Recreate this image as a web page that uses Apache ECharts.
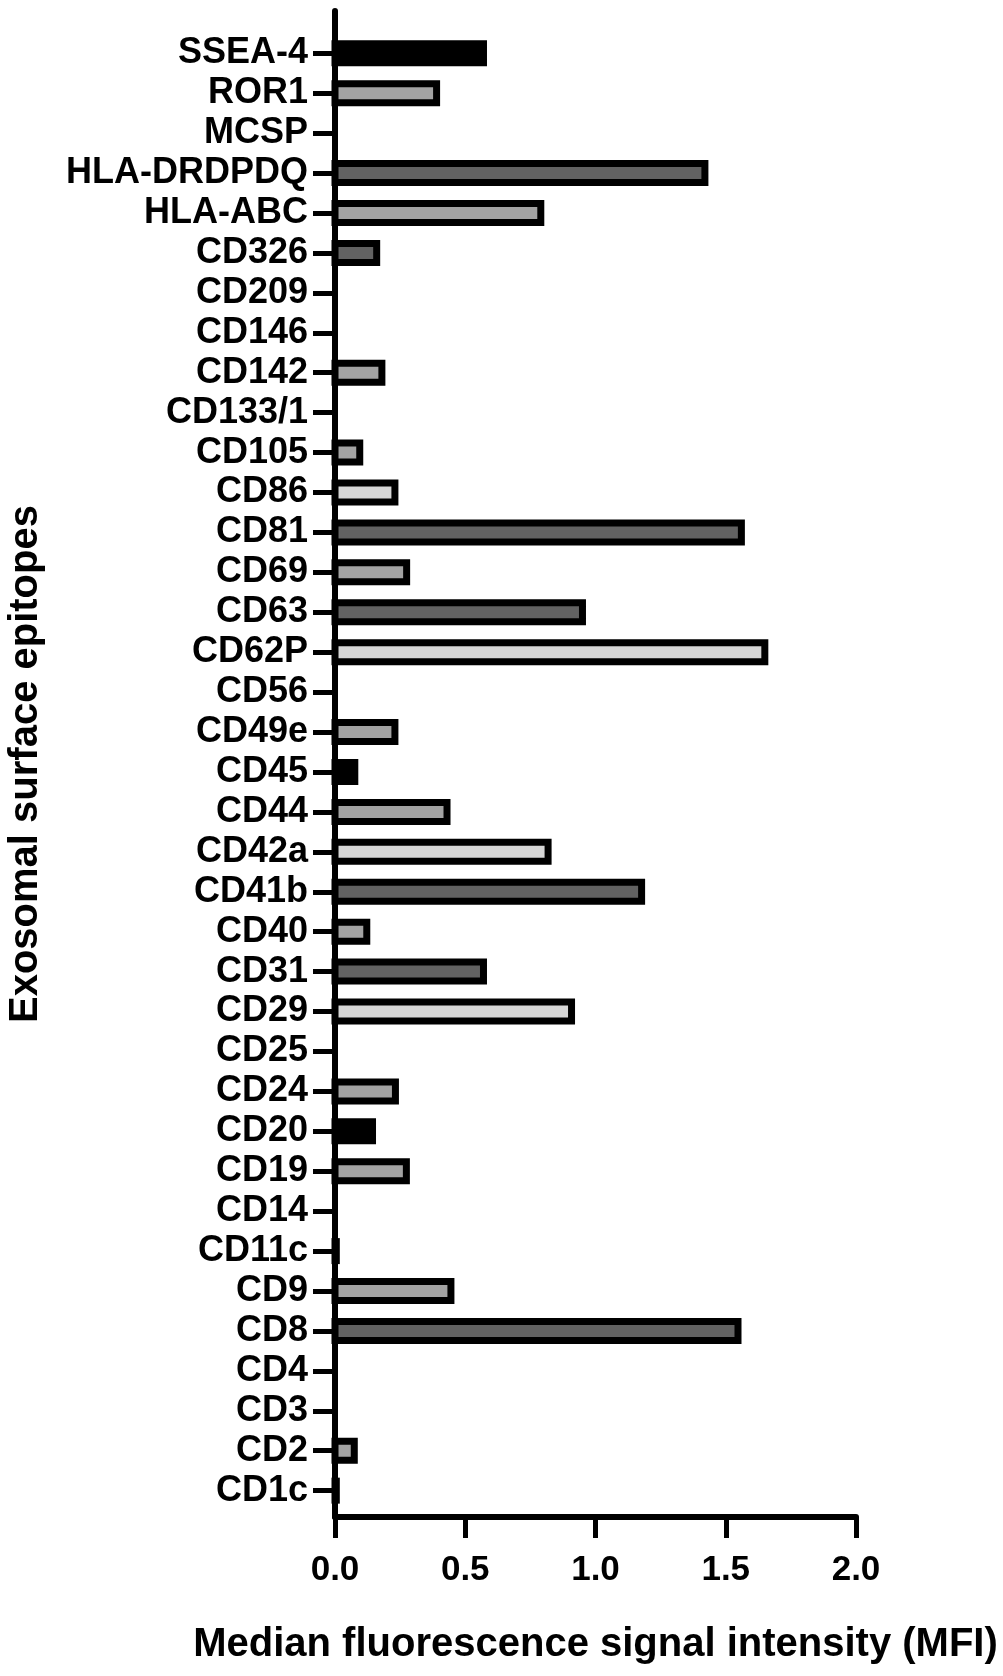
<!DOCTYPE html>
<html>
<head>
<meta charset="utf-8">
<script src="https://cdn.jsdelivr.net/npm/echarts@6/dist/echarts.min.js"></script>
<style>
html,body{margin:0;padding:0;background:#fff;}
#chart{width:1003px;height:1676px;}
</style>
</head>
<body>
<div id="chart"></div>
<script>
// Categories (top to bottom)
const categories = ['SSEA-4','ROR1','MCSP','HLA-DRDPDQ','HLA-ABC','CD326','CD209','CD146','CD142','CD133/1','CD105','CD86','CD81','CD69','CD63','CD62P','CD56','CD49e','CD45','CD44','CD42a','CD41b','CD40','CD31','CD29','CD25','CD24','CD20','CD19','CD14','CD11c','CD9','CD8','CD4','CD3','CD2','CD1c'];
// Median fluorescence signal intensity (MFI)
const mfi = [0.57,0.39,0,1.42,0.79,0.16,0,0,0.18,0,0.095,0.23,1.56,0.275,0.95,1.65,0,0.23,0.076,0.43,0.818,1.177,0.122,0.57,0.908,0,0.232,0.144,0.274,0,0.005,0.445,1.547,0,0,0.074,0.005];
// Shading group of each bar
const group = ['A','C','-','B','C','B','-','-','C','-','C','D','B','C','B','D','-','C','A','C','D','B','C','B','D','-','C','A','C','-','A','C','B','-','-','C','A'];
// X tick labels
const xTicks = [0, 0.5, 1.0, 1.5, 2.0];

const shade = {A:'#000000', B:'#626262', C:'#a3a3a3', D:'#d6d6d6', '-':'#ffffff'};
const font = 'Liberation Sans, Arial, sans-serif';
const idxs = categories.map((c, i) => i);

const chart = echarts.init(document.getElementById('chart'), null, {renderer:'canvas'});
chart.setOption({
  animation: false,
  backgroundColor: '#fff',
  grid: {left: 335, right: 147, top: 11, bottom: 159, containLabel: false, outerBoundsMode: 'none'},
  xAxis: {
    type: 'value', min: xTicks[0], max: xTicks[xTicks.length-1], interval: 0.5,
    splitLine: {show: false},
    axisLine: {show: true, onZero: false, lineStyle: {color: '#000', width: 6}},
    axisTick: {show: true, length: 21, lineStyle: {color: '#000', width: 5}},
    axisLabel: {formatter: v => v.toFixed(1), fontSize: 35, fontWeight: 'bold', color: '#000', fontFamily: font, margin: 36},
    name: 'Median fluorescence signal intensity (MFI)', nameLocation: 'middle', nameGap: 108,
    nameTextStyle: {fontSize: 40, fontWeight: 'bold', color: '#000', fontFamily: font}
  },
  yAxis: {
    type: 'value', inverse: true, min: -1.06, max: 36.66,
    splitLine: {show: false},
    axisLine: {show: true, onZero: false, lineStyle: {color: '#000', width: 6}},
    axisTick: {show: true, length: 22, customValues: idxs, lineStyle: {color: '#000', width: 5}},
    axisLabel: {customValues: idxs, formatter: v => categories[Math.round(v)] || '', fontSize: 36, fontWeight: 'bold', color: '#000', fontFamily: font, margin: 27},
    name: 'Exosomal surface epitopes', nameLocation: 'middle', nameGap: 289,
    nameTextStyle: {fontSize: 40, fontWeight: 'bold', color: '#000', fontFamily: font}
  },
  series: [{
    type: 'custom',
    clip: false,
    encode: {x: 0, y: 1},
    data: categories.map((c, i) => [mfi[i], i, group[i]]),
    renderItem: function (params, api) {
      const v = api.value(0);
      const i = api.value(1);
      if (!v) return null;
      const p0 = api.coord([0, i]);
      const p1 = api.coord([v, i]);
      const h = 19;
      return {
        type: 'rect',
        shape: {x: p0[0], y: p0[1] - h/2, width: p1[0] - p0[0], height: h},
        style: {fill: shade[group[params.dataIndex]], stroke: '#000', lineWidth: 7}
      };
    }
  }]
});
</script>
</body>
</html>
